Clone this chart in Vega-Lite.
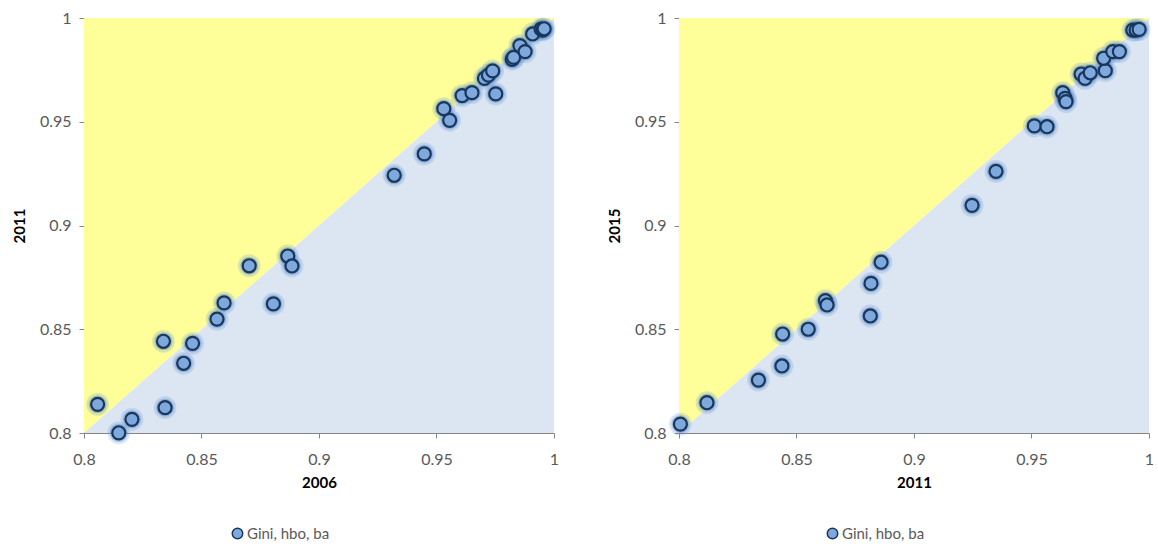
{
  "$schema": "https://vega.github.io/schema/vega-lite/v6.json",
  "background": "white",
  "padding": {"left": 12, "top": 10, "right": 5, "bottom": 5},
  "datasets": {
    "tri_upper": [{"x": 0.8, "y": 0.8, "y2": 1}, {"x": 1, "y": 1, "y2": 1}],
    "tri_lower": [{"x": 0.8, "y": 0.8, "y2": 0.8}, {"x": 1, "y": 1, "y2": 0.8}],
    "p2006_2011": [
      {"x": 0.8058, "y": 0.8138}, {"x": 0.8148, "y": 0.8001}, {"x": 0.8204, "y": 0.8066}, {"x": 0.8345, "y": 0.8122},
      {"x": 0.8338, "y": 0.8442}, {"x": 0.8424, "y": 0.8336}, {"x": 0.8462, "y": 0.8432}, {"x": 0.8566, "y": 0.8549},
      {"x": 0.8596, "y": 0.8627}, {"x": 0.8703, "y": 0.8806}, {"x": 0.8806, "y": 0.8622}, {"x": 0.8867, "y": 0.8853},
      {"x": 0.8885, "y": 0.8805}, {"x": 0.932, "y": 0.9242}, {"x": 0.9448, "y": 0.9345}, {"x": 0.9531, "y": 0.9563},
      {"x": 0.9556, "y": 0.9507}, {"x": 0.9609, "y": 0.9626}, {"x": 0.9651, "y": 0.964}, {"x": 0.9752, "y": 0.9634},
      {"x": 0.9704, "y": 0.9709}, {"x": 0.9721, "y": 0.9725}, {"x": 0.9739, "y": 0.9745}, {"x": 0.9822, "y": 0.9801},
      {"x": 0.9828, "y": 0.981}, {"x": 0.9855, "y": 0.9867}, {"x": 0.9877, "y": 0.9838}, {"x": 0.9909, "y": 0.9923},
      {"x": 0.9945, "y": 0.9946}, {"x": 0.9952, "y": 0.9942}, {"x": 0.9958, "y": 0.9948}
    ],
    "p2011_2015": [
      {"x": 0.8006, "y": 0.8043}, {"x": 0.8119, "y": 0.8146}, {"x": 0.8338, "y": 0.8255}, {"x": 0.8438, "y": 0.8323},
      {"x": 0.8441, "y": 0.8477}, {"x": 0.855, "y": 0.85}, {"x": 0.8623, "y": 0.8638}, {"x": 0.863, "y": 0.8617},
      {"x": 0.8814, "y": 0.8564}, {"x": 0.8817, "y": 0.8721}, {"x": 0.886, "y": 0.8823}, {"x": 0.9247, "y": 0.9097},
      {"x": 0.9349, "y": 0.9261}, {"x": 0.9512, "y": 0.948}, {"x": 0.9566, "y": 0.9476}, {"x": 0.9633, "y": 0.964},
      {"x": 0.9643, "y": 0.9613}, {"x": 0.9647, "y": 0.9597}, {"x": 0.9711, "y": 0.973}, {"x": 0.9728, "y": 0.9709},
      {"x": 0.975, "y": 0.9736}, {"x": 0.9814, "y": 0.9746}, {"x": 0.9807, "y": 0.9806}, {"x": 0.9846, "y": 0.9838},
      {"x": 0.9874, "y": 0.9838}, {"x": 0.9931, "y": 0.9942}, {"x": 0.9945, "y": 0.9942}, {"x": 0.9958, "y": 0.9945}
    ]
  },
  "hconcat": [
    {
      "width": 470,
      "height": 415,
      "encoding": {
        "x": {"field": "x", "type": "quantitative", "scale": {"domain": [0.8, 1], "nice": false, "zero": false},
              "axis": {"title": "2006", "values": [0.8, 0.85, 0.9, 0.95, 1], "format": ".2~f", "labelFlush": false, "labelPadding": 13, "titlePadding": 8}},
        "y": {"field": "y", "type": "quantitative", "scale": {"domain": [0.8, 1], "nice": false, "zero": false},
              "axis": {"title": "2011", "values": [0.8, 0.85, 0.9, 0.95, 1], "format": ".2~f", "labelFlush": false, "labelPadding": 8, "titlePadding": 12}}
      },
      "layer": [
        {"data": {"name": "tri_upper"}, "mark": {"type": "area", "color": "#FFFF99", "opacity": 1}, "encoding": {"y2": {"field": "y2"}}},
        {"data": {"name": "tri_lower"}, "mark": {"type": "area", "color": "#DCE6F2", "opacity": 1}, "encoding": {"y2": {"field": "y2"}}},
        {"data": {"name": "p2006_2011"}, "mark": {"type": "point", "filled": true, "size": 520, "color": "#5B8FD6", "opacity": 0.22}},
        {"data": {"name": "p2006_2011"}, "mark": {"type": "point", "filled": true, "size": 330, "color": "#4F81BD", "opacity": 0.38}},
        {"data": {"name": "p2006_2011"}, "mark": {"type": "point", "filled": true, "size": 170, "stroke": "#17375E", "strokeWidth": 2.2, "opacity": 1},
         "encoding": {"color": {"datum": "Gini, hbo, ba", "type": "nominal", "scale": {"range": ["#7FA8DD"]},
           "legend": {"orient": "none", "legendX": 146, "legendY": 508, "title": null, "symbolType": "circle", "symbolSize": 110,
                      "symbolStrokeColor": "#17375E", "symbolStrokeWidth": 1.5, "labelFont": "Lato", "labelFontSize": 15, "labelColor": "#595959", "labelOffset": 2}}}}
      ]
    },
    {
      "width": 470,
      "height": 415,
      "encoding": {
        "x": {"field": "x", "type": "quantitative", "scale": {"domain": [0.8, 1], "nice": false, "zero": false},
              "axis": {"title": "2011", "values": [0.8, 0.85, 0.9, 0.95, 1], "format": ".2~f", "labelFlush": false, "labelPadding": 13, "titlePadding": 8}},
        "y": {"field": "y", "type": "quantitative", "scale": {"domain": [0.8, 1], "nice": false, "zero": false},
              "axis": {"title": "2015", "values": [0.8, 0.85, 0.9, 0.95, 1], "format": ".2~f", "labelFlush": false, "labelPadding": 8, "titlePadding": 12}}
      },
      "layer": [
        {"data": {"name": "tri_upper"}, "mark": {"type": "area", "color": "#FFFF99", "opacity": 1}, "encoding": {"y2": {"field": "y2"}}},
        {"data": {"name": "tri_lower"}, "mark": {"type": "area", "color": "#DCE6F2", "opacity": 1}, "encoding": {"y2": {"field": "y2"}}},
        {"data": {"name": "p2011_2015"}, "mark": {"type": "point", "filled": true, "size": 520, "color": "#5B8FD6", "opacity": 0.22}},
        {"data": {"name": "p2011_2015"}, "mark": {"type": "point", "filled": true, "size": 330, "color": "#4F81BD", "opacity": 0.38}},
        {"data": {"name": "p2011_2015"}, "mark": {"type": "point", "filled": true, "size": 170, "stroke": "#17375E", "strokeWidth": 2.2, "opacity": 1},
         "encoding": {"color": {"datum": "Gini, hbo, ba", "type": "nominal", "scale": {"range": ["#7FA8DD"]},
           "legend": {"orient": "none", "legendX": 146, "legendY": 508, "title": null, "symbolType": "circle", "symbolSize": 110,
                      "symbolStrokeColor": "#17375E", "symbolStrokeWidth": 1.5, "labelFont": "Lato", "labelFontSize": 15, "labelColor": "#595959", "labelOffset": 2}}}}
      ]
    }
  ],
  "spacing": 125,
  "bounds": "flush",
  "resolve": {"scale": {"color": "independent"}, "legend": {"color": "independent"}},
  "config": {
    "view": {"stroke": null},
    "axis": {"grid": false, "domainColor": "#868686", "tickColor": "#868686", "tickSize": 5,
             "labelColor": "#595959", "labelFont": "Lato", "labelFontSize": 16,
             "titleFont": "Lato", "titleFontSize": 15, "titleFontWeight": "bold", "titleColor": "#000000"}
  }
}
